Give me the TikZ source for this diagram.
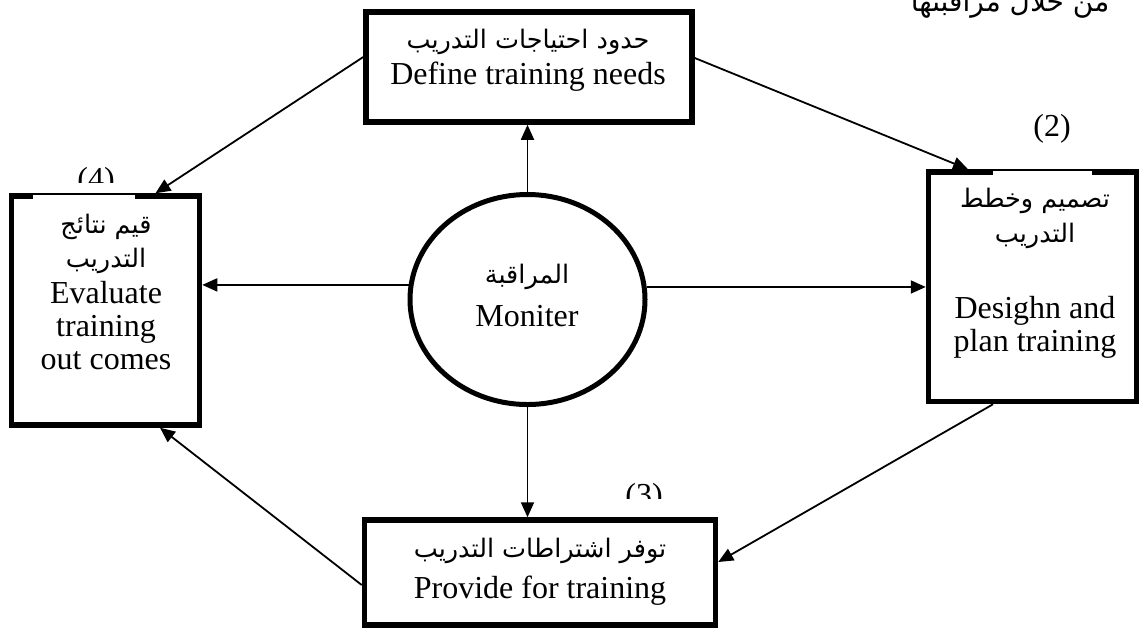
\documentclass[tikz,border=0pt]{standalone}
\usepackage{fontspec}
\setmainfont{Liberation Serif}
\newfontfamily\arabicfont[Script=Arabic]{DejaVu Sans}
\TeXXeTstate=1
\usetikzlibrary{arrows.meta,shapes.geometric}
\newcommand{\artxt}[1]{{\arabicfont\beginR #1\endR}}
\begin{document}
\begin{tikzpicture}[x=1pt,y=-1pt,
  box/.style={draw,line width=5.5pt,rectangle,inner sep=0pt,fill=white},
  arr/.style={line width=1.8pt,-{Triangle[length=15pt,width=13pt]}},
  en/.style={font=\fontsize{32}{33}\selectfont,anchor=base,inner sep=0pt},
  ab/.style={font=\fontsize{25.5}{28}\selectfont,anchor=base,inner sep=0pt}]
\useasboundingbox (0,0) rectangle (1142,633);
% boxes
\node[box,minimum width=326pt,minimum height=110pt] (needs) at (529,67) {};
\node[box,minimum width=188pt,minimum height=229pt] (eval) at (105.5,310.5) {};
\node[box,minimum width=208pt,minimum height=229.5pt] (plan) at (1032.5,286.75) {};
\node[box,minimum width=351pt,minimum height=105pt] (prov) at (540,572.5) {};
\node[ellipse,draw,line width=5pt,fill=white,minimum width=235pt,minimum height=210pt,inner sep=0pt] (mon) at (527.5,299.5) {};
% gaps in top borders (label boxes)
\fill[white] (33,195) rectangle (135,199.5);
\fill[white] (993,171) rectangle (1092,176);
% texts
\node[ab] (t1a) at (528,48) {\artxt{حدود احتياجات التدريب}};
\node[en] (t1e) at (528,84) {Define training needs};
\node[ab] (t4a) at (106,233) {\artxt{قيم نتائج}};
\node[ab] (t4b) at (106,267) {\artxt{التدريب}};
\node[en] (t4c) at (106,303) {Evaluate};
\node[en] (t4d) at (106,336) {training};
\node[en] (t4e) at (106,369) {out comes};
\node[ab] (t2a) at (1035,207) {\artxt{تصميم وخطط}};
\node[ab] (t2b) at (1035,242) {\artxt{التدريب}};
\node[en] (t2c) at (1035,318) {Desighn and};
\node[en] (t2d) at (1035,351) {plan training};
\node[ab] (tma) at (527,283) {\artxt{المراقبة}};
\node[en] (tme) at (527,326) {Moniter};
\node[ab] (t3a) at (540,557) {\artxt{توفر اشتراطات التدريب}};
\node[en] (t3e) at (540,598) {Provide for training};
\node[font=\fontsize{28}{30}\selectfont,anchor=base,inner sep=0pt] (top) at (1010,11) {\artxt{من خلال مراقبتها}};
% labels
\node[en] (l2) at (1052,136) {(2)};
\begin{scope}
\clip (60,150) rectangle (140,182);
\node[en] (l4) at (96,189) {(4)};
\end{scope}
\begin{scope}
\clip (610,470) rectangle (680,498);
\node[en] (l3) at (644,505) {(3)};
\end{scope}
% connectors
\draw[arr] (mon.north) -- (mon.north |- needs.south);
\draw[arr] (mon.south) -- (mon.south |- prov.north);
\draw[arr] (mon.173.6) -- (mon.173.6 -| eval.east);
\draw[arr] (mon.6.4) -- (mon.6.4 -| plan.west);
\draw[arr] ([yshift=10pt]needs.west) -- ([xshift=50pt]eval.north);
\draw[arr] ([yshift=9pt]needs.east) -- ([xshift=-64.5pt]plan.north);
\draw[arr] ([xshift=-39.5pt]plan.south) -- ([yshift=10.5pt]prov.east);
\draw[arr] ([yshift=-12.5pt]prov.west) -- ([xshift=54.5pt]eval.south);
\end{tikzpicture}
\end{document}
